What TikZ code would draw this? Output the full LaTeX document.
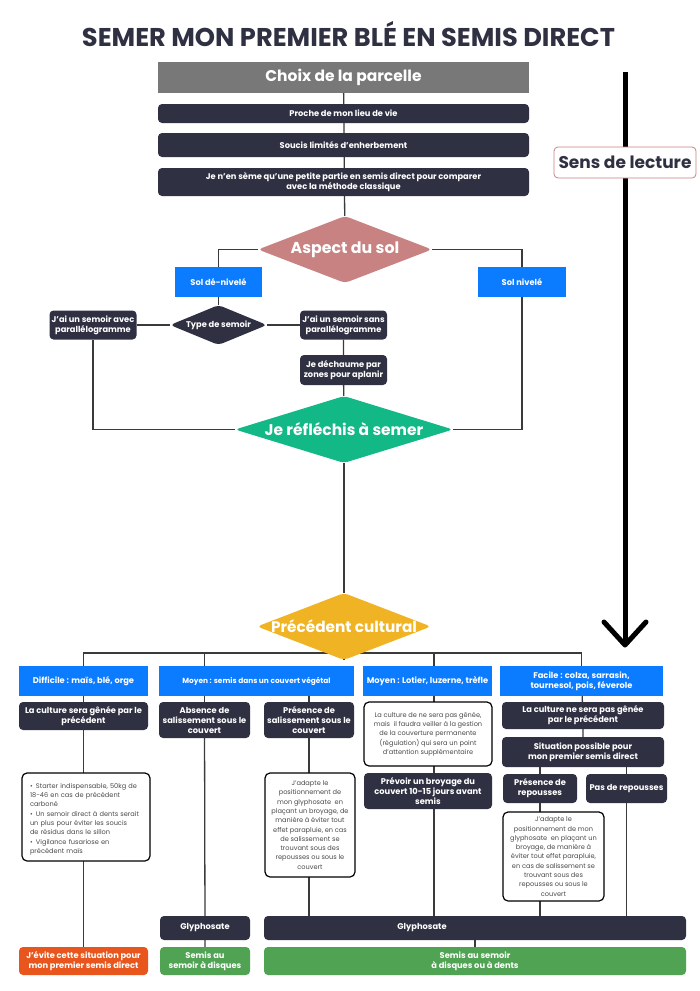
\documentclass[tikz,border=0pt]{standalone}
\usepackage{fontspec}
\setmainfont{Poppins}
\usetikzlibrary{shapes.geometric,backgrounds}

\definecolor{navy}{HTML}{2F3142}
\definecolor{gristitre}{HTML}{787878}
\definecolor{rose}{HTML}{C98282}
\definecolor{bleu}{HTML}{0B7BFF}
\definecolor{emeraude}{HTML}{12B886}
\definecolor{ambre}{HTML}{F0B323}
\definecolor{orangevif}{HTML}{E8551D}
\definecolor{vertpre}{HTML}{4FA352}
\definecolor{trait}{HTML}{3A3A3A}
\definecolor{gristexte}{HTML}{4A4A4A}

\newcommand{\puce}[1]{\par\hangindent=6pt\hangafter=1\noindent\makebox[6pt][l]{\textbullet}#1\par}

\tikzset{
	wh/.style 2 args={minimum width=#1pt, minimum height=#2pt},
	base/.style={align=center, text=white, inner sep=0pt, font=\bfseries\fontsize{8.3}{10}\selectfont},
	darkbox/.style={base, fill=navy, rounded corners=4pt},
	bluebox/.style={base, fill=bleu},
	greenbox/.style={base, fill=vertpre, rounded corners=4pt},
	notebox/.style={draw=black, line width=1.2pt, fill=white, rounded corners=5pt, align=center,
		text=gristexte, inner sep=0pt, font=\fontsize{6.6}{9.3}\selectfont},
	losange/.style={diamond, base, rounded corners=4pt, shape aspect=#1},
	link/.style={draw=trait, line width=1.3pt}
}

\begin{document}
\begin{tikzpicture}[x=1pt,y=-1pt]
	\useasboundingbox (0,0) rectangle (700,991);
	\node[text=navy, font=\bfseries\fontsize{25.7}{28}\selectfont] (titre) at (348.5,34) {SEMER MON PREMIER BLÉ EN SEMIS DIRECT};

	% choix de la parcelle
	\node[base, fill=gristitre, wh={371}{31}, font=\bfseries\fontsize{15.5}{17}\selectfont] (choix) at (343.5,77.5) {Choix de la parcelle};
	\node[darkbox, wh={371}{19}] (proche) at (343.5,113.5) {Proche de mon lieu de vie};
	\node[darkbox, wh={371}{24}] (soucis) at (343.5,145) {Soucis limités d'enherbement};
	\node[darkbox, wh={371}{28}] (petite) at (343.5,182) {Je n'en sème qu'une petite partie en semis direct pour comparer\\avec la méthode classique};

	% aspect du sol
	\node[losange=2.6, fill=rose, wh={174}{67}, font=\bfseries\fontsize{15.8}{18}\selectfont] (aspect) at (345,249.5) {Aspect du sol};
	\node[bluebox, wh={87}{30}] (solden) at (218.5,282) {Sol dé-nivelé};
	\node[bluebox, wh={88}{30}] (solniv) at (522,282) {Sol nivelé};
	\node[losange=2.4, fill=navy, wh={97}{40}] (typesem) at (218.5,325) {Type de semoir};
	\node[darkbox, wh={87}{29}] (avec) at (93,325) {J'ai un semoir avec\\parallélogramme};
	\node[darkbox, wh={87}{29}] (sans) at (343.5,325) {J'ai un semoir sans\\parallélogramme};
	\node[darkbox, wh={87}{30}] (dechaume) at (343.5,370) {Je déchaume par\\zones pour aplanir};
	\node[losange=3.25, fill=emeraude, wh={218}{67}, font=\bfseries\fontsize{15.5}{18}\selectfont] (reflechis) at (344,429.5) {Je réfléchis à semer};

	% precedent cultural
	\node[losange=2.6, fill=ambre, wh={174}{67}, inner xsep=-8pt, font=\bfseries\fontsize{15.3}{17}\selectfont] (prec) at (344,626.5) {Précédent cultural};
	\coordinate (bus) at (344,653);
	\coordinate (colLot) at (434,653);

	\node[bluebox, wh={129}{30}] (diff) at (83.5,681) {Difficile : maïs, blé, orge};
	\node[bluebox, wh={195}{30}, font=\bfseries\fontsize{7.4}{9}\selectfont] (moyen) at (256.5,681) {Moyen : semis dans un couvert végétal};
	\node[bluebox, wh={129}{30}] (lotier) at (427.5,681) {Moyen : Lotier, luzerne, trèfle};
	\node[bluebox, wh={163}{30}] (facile) at (581.5,681) {Facile : colza, sarrasin,\\tournesol, pois, féverole};

	\node[darkbox, wh={129}{28}] (genee) at (83.5,716) {La culture sera gênée par le\\précédent};
	\node[darkbox, wh={91}{36}] (absence) at (204.5,720) {Absence de\\salissement sous le\\couvert};
	\node[darkbox, wh={90}{36}] (presal) at (309,720) {Présence de\\salissement sous le\\couvert};
	\node[notebox, wh={128}{64}] (lotnote) at (428,734) {La culture de ne sera pas gênée,\\mais~ il faudra veiller à la gestion\\de la couverture permanente\\(régulation) qui sera un point\\d'attention supplémentaire};
	\node[darkbox, wh={128}{36}] (broyage) at (428,791) {Prévoir un broyage du\\couvert 10-15 jours avant\\semis};
	\node[darkbox, wh={162}{27}] (nongenee) at (583,715.5) {La culture ne sera pas gênée\\par le précédent};
	\node[darkbox, wh={162}{30}] (situation) at (583,752) {Situation possible pour\\mon premier semis direct};
	\node[darkbox, wh={74}{29}] (presrep) at (540,788.5) {Présence de\\repousses};
	\node[darkbox, wh={81}{29}] (pasrep) at (626.5,788.5) {Pas de repousses};

	\node[notebox, wh={128}{88}, text width=112pt, inner xsep=8pt, align=left] (diffnote) at (86,817) {%
		\puce{Starter indispensable, 50kg de\\18-46 en cas de précédent\\carboné}%
		\puce{Un semoir direct à dents serait\\un plus pour éviter les soucis\\de résidus dans le sillon}%
		\puce{Vigilance fusariose en\\précédent maïs}};
	\node[notebox, wh={90}{104}] (salnote) at (310,825) {J'adapte le\\positionnement de\\mon glyphosate~ en\\plaçant un broyage, de\\manière à éviter tout\\effet parapluie, en cas\\de salissement se\\trouvant sous des\\repousses ou sous le\\couvert};
	\node[notebox, wh={101}{89}] (repnote) at (553.5,856.5) {J'adapte le\\positionnement de mon\\glyphosate~ en plaçant un\\broyage, de manière à\\éviter tout effet parapluie,\\en cas de salissement se\\trouvant sous des\\repousses ou sous le\\couvert};

	% fin
	\node[darkbox, wh={90}{24}] (glyA) at (205,928) {Glyphosate};
	\node[darkbox, wh={422}{24}] (glyB) at (475,928) {};
	\node[base] (glyBtxt) at (422,928) {Glyphosate};
	\node[base, fill=orangevif, rounded corners=4pt, wh={129}{28}] (evite) at (83.5,961) {J'évite cette situation pour\\mon premier semis direct};
	\node[greenbox, wh={90}{28}] (disques) at (205,961) {Semis au\\semoir à disques};
	\node[greenbox, wh={422}{28}] (dents) at (475,961) {Semis au semoir\\à disques ou à dents};

	% sens de lecture
	\coordinate (flecheH) at (625,72);
	\coordinate (flecheB) at (625,645);
	\draw[line width=5pt] (flecheH) -- (flecheB);
	\draw[line width=5pt, line cap=round, line join=round] (flecheB) ++(-21,-23) -- (flecheB) -- ++(21,-23);
	\node[draw=rose, line width=0.8pt, fill=white, rounded corners=4pt, text=navy, wh={142}{31},
		font=\bfseries\fontsize{17}{19}\selectfont] (sens) at (625,162.5) {Sens de lecture};

	\begin{scope}[on background layer]
		\draw[link] (choix) -- (aspect);
		\draw[link] (aspect) -| (solden);
		\draw[link] (aspect) -| (solniv);
		\draw[link] (solden) -- (typesem);
		\draw[link] (avec) -- (typesem) -- (sans);
		\draw[link] (sans) -- (dechaume) -- (reflechis);
		\draw[link] (avec) |- (reflechis);
		\draw[link] (solniv) |- (reflechis);
		\draw[link] (reflechis) -- (prec);
		\draw[link] (prec) -- (bus);
		\draw[link] (diff) |- (bus) -| (facile);
		\draw[link] (absence) |- (bus);
		\draw[link] (presal) -- (presal |- moyen);
		\draw[link] (colLot) -- (colLot |- glyB);
		\draw[link] (facile) -- (nongenee) -- (situation);
		\draw[link] (situation) -| (presrep);
		\draw[link] (situation) -| (pasrep);
		\draw[link] (presrep) -- (presrep |- glyB);
		\draw[link] (pasrep) -- (pasrep |- glyB);
		\draw[link] (presal) -- (presal |- glyB);
		\draw[link] (diff) -- (evite);
		\draw[link] (absence) -- (glyA) -- (disques);
		\draw[link] (glyB) -- (dents);
	\end{scope}
\end{tikzpicture}
\end{document}
